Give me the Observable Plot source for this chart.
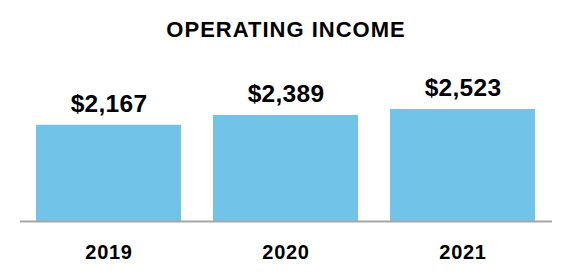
<!DOCTYPE html>
<html>
<head>
<meta charset="utf-8">
<script src="https://cdn.jsdelivr.net/npm/d3@7"></script>
<script src="https://cdn.jsdelivr.net/npm/@observablehq/plot@0.6"></script>
<style>
  html, body { margin: 0; padding: 0; background: #fff; }
  body { width: 572px; height: 280px; overflow: hidden; font-family: "Liberation Sans", Arial, sans-serif; }
  #title { height: 50px; line-height: 60px; text-align: center; font-size: 22px; letter-spacing: 1px; font-weight: bold; color: #000; }
  svg text { font-family: "Liberation Sans", Arial, sans-serif; font-weight: bold; fill: #000; }
  g[aria-label="x-axis tick label"] text { letter-spacing: 0.7px; }
  g[aria-label="text"] text { letter-spacing: 0.3px; }
</style>
</head>
<body>
<div id="title">OPERATING INCOME</div>
<div id="chart"></div>
<script>
const years = ["2019", "2020", "2021"];
const values = [2167, 2389, 2523];
const labels = ["$2,167", "$2,389", "$2,523"];

const data = years.map((y, i) => ({year: y, value: values[i], label: labels[i]}));

const plot = Plot.plot({
  width: 572,
  height: 230,
  marginTop: 20,
  marginBottom: 59,
  marginLeft: 20,
  marginRight: 20,
  x: {domain: years, paddingInner: 0.18, paddingOuter: 0.09, label: null},
  y: {domain: [0, 3400], axis: null},
  style: {fontFamily: "Liberation Sans, Arial, sans-serif", color: "#000", background: "#fff"},
  marks: [
    Plot.barY(data, {x: "year", y: "value", fill: "#71c4e8"}),
    Plot.ruleY([0], {stroke: "#a6a6a6", strokeWidth: 2}),
    Plot.text(data, {x: "year", y: "value", text: "label", lineAnchor: "bottom", dy: -13, fontSize: 24.5, fontWeight: "bold", fill: "#000"}),
    Plot.axisX({tickSize: 0, tickPadding: 23, fontSize: 20, fontWeight: "bold", label: null})
  ]
});
document.getElementById("chart").appendChild(plot);
</script>
</body>
</html>
